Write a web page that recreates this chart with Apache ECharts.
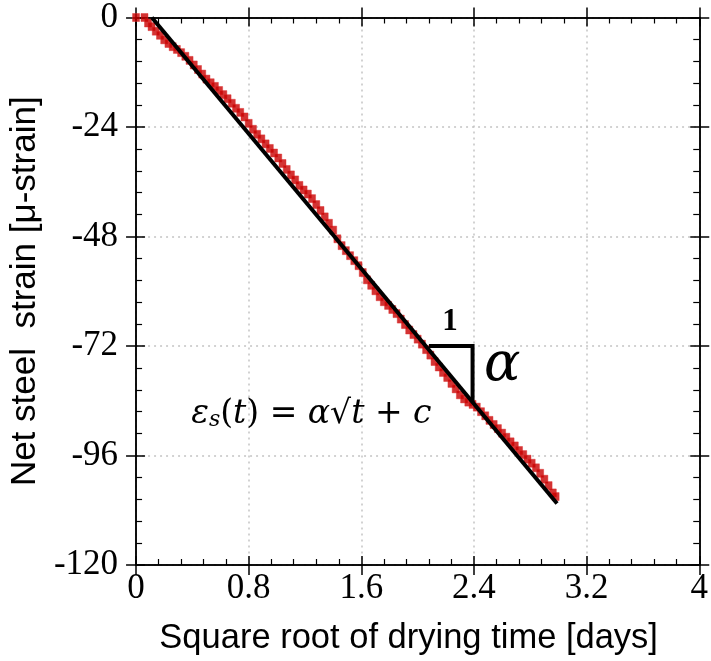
<!DOCTYPE html>
<html>
<head>
<meta charset="utf-8">
<script src="https://cdn.jsdelivr.net/npm/echarts@6/dist/echarts.min.js"></script>
<style>
  html, body { margin: 0; padding: 0; background: #fff; }
  #chart { width: 711px; height: 661px; }
</style>
</head>
<body>
<div id="chart"></div>
<script>
const rootTime = [
  0.00, 0.06, 0.085, 0.11, 0.14, 0.17, 0.20, 0.23, 0.26, 0.29, 0.32, 0.35, 0.38, 0.41, 0.44,
  0.47, 0.50, 0.53, 0.56, 0.59, 0.62, 0.65, 0.68, 0.71, 0.74, 0.77, 0.80, 0.83, 0.86, 0.89,
  0.92, 0.95, 0.98, 1.01, 1.04, 1.07, 1.10, 1.13, 1.16, 1.19, 1.22, 1.25, 1.28, 1.31, 1.34,
  1.37, 1.40, 1.43, 1.46, 1.49, 1.52, 1.55, 1.58, 1.61, 1.64, 1.67, 1.70, 1.73, 1.76, 1.79,
  1.82, 1.85, 1.88, 1.91, 1.94, 1.97, 2.00, 2.03, 2.06, 2.09, 2.12, 2.15, 2.18, 2.21, 2.24,
  2.27, 2.30, 2.33, 2.36, 2.39, 2.42, 2.45, 2.48, 2.51, 2.54, 2.57, 2.60, 2.63, 2.66, 2.69,
  2.72, 2.75, 2.78, 2.81, 2.84, 2.87, 2.90, 2.93, 2.96, 2.98
];
const strain = [
  0, 0, -1.2, -2.0, -3.0, -3.9, -4.9, -5.7, -6.4, -7.0, -7.7, -8.5, -9.4, -10.4, -11.4,
  -12.4, -13.5, -14.3, -15.1, -16.0, -16.9, -17.8, -18.8, -19.9, -20.8, -21.8, -23.2, -24.5, -25.6, -26.6,
  -27.7, -28.7, -29.7, -30.8, -32.0, -33.3, -34.5, -35.6, -36.8, -37.8, -38.7, -39.7, -41.0, -42.3, -43.7,
  -45.1, -46.6, -48.5, -50.0, -51.1, -52.2, -53.3, -54.4, -55.9, -57.5, -58.7, -59.9, -61.2, -62.3, -63.1,
  -64.0, -64.9, -66.1, -67.3, -68.5, -69.5, -70.5, -71.6, -72.8, -74.0, -75.4, -76.6, -77.8, -78.9, -80.2,
  -81.4, -82.7, -83.6, -84.3, -84.8, -85.4, -86.4, -87.3, -88.3, -89.2, -90.1, -91.1, -92.0, -93.0, -93.9,
  -94.9, -95.8, -96.8, -97.7, -98.7, -99.9, -101.2, -102.6, -104.2, -105.0
];

// fitted line eps = alpha*sqrt(t) + c
const fitX = [0.112, 2.99];
const fitY = [0, -106.5];

// slope triangle
const triX = [2.08, 2.39, 2.39];
const triY = [-72, -72, -84.3];

// text notes, anchored in data units
const noteX = [2.23, 2.6, 1.245];
const noteY = [-66.8, -76.4, -86.9];

const xTicks = { min: 0, max: 4, interval: 0.8 };
const yTicks = { min: -120, max: 0, interval: 24 };

const zip = (a, b) => a.map((v, i) => [v, b[i]]);

const chart = echarts.init(document.getElementById('chart'));

const serif = '"Liberation Serif", "Times New Roman", serif';
const sans = '"Liberation Sans", Arial, sans-serif';
const mathFont = '"DejaVu Serif", serif';

function xAx(pos, opts) {
  return Object.assign({
    type: 'value', position: pos, min: xTicks.min, max: xTicks.max, interval: xTicks.interval,
    axisLine: { show: true, onZero: false, lineStyle: { color: '#000', width: 1.5 } },
    axisTick: { show: true, inside: false, length: 10, lineStyle: { color: '#000', width: 1.5 } },
    minorTick: { show: false },
    axisLabel: { show: false },
    splitLine: { show: false }
  }, opts);
}
function yAx(pos, opts) {
  return Object.assign({
    type: 'value', position: pos, min: yTicks.min, max: yTicks.max, interval: yTicks.interval,
    axisLine: { show: true, onZero: false, lineStyle: { color: '#000', width: 1.5 } },
    axisTick: { show: true, inside: false, length: 10, lineStyle: { color: '#000', width: 1.5 } },
    minorTick: { show: false },
    axisLabel: { show: false },
    splitLine: { show: false }
  }, opts);
}
const innerTick = {
  axisTick: { show: true, inside: true, length: 9, lineStyle: { color: '#000', width: 1.5 } },
  minorTick: { show: true, splitNumber: 5, length: 6, lineStyle: { color: '#000', width: 1.2 } }
};
const grid = { color: '#c4c4c4', width: 1.5, type: [2, 4] };

const option = {
  animation: false,
  grid: { left: 136, right: 3, top: 17, bottom: 96 },
  xAxis: [
    xAx('bottom', {
      name: 'Square root of drying time [days]',
      nameLocation: 'middle', nameGap: 56,
      nameTextStyle: { fontFamily: sans, fontSize: 34.5, color: '#000', padding: [0, 18, 0, 0] },
      axisLabel: { show: true, fontFamily: serif, fontSize: 35, color: '#000', margin: 6,
        formatter: v => String(+v.toFixed(1)) },
      splitLine: { show: true, lineStyle: grid }
    }),
    xAx('bottom', innerTick),
    xAx('top', {}),
    xAx('top', innerTick)
  ],
  yAxis: [
    yAx('left', {
      name: 'Net steel  strain [\u03bc-strain]',
      nameLocation: 'middle', nameGap: 90,
      nameTextStyle: { fontFamily: sans, fontSize: 35, color: '#000' },
      axisLabel: { show: true, fontFamily: serif, fontSize: 35, color: '#000', margin: 18 },
      splitLine: { show: true, lineStyle: grid }
    }),
    yAx('left', innerTick),
    yAx('right', {}),
    yAx('right', innerTick)
  ],
  series: [
    {
      type: 'scatter',
      data: zip(rootTime, strain),
      symbol: 'rect',
      symbolSize: [7, 8],
      itemStyle: { color: '#c80000', borderColor: 'rgba(220,40,40,0.9)', borderWidth: 0.6 },
      z: 2
    },
    {
      type: 'line',
      data: zip(fitX, fitY),
      symbol: 'none',
      lineStyle: { color: '#000', width: 4 },
      z: 3
    },
    {
      type: 'line',
      data: zip(triX, triY),
      symbol: 'none',
      lineStyle: { color: '#000', width: 4, join: 'miter' },
      z: 3
    }
  ]
};

chart.setOption(option);

// annotations placed through the axes
const p = i => chart.convertToPixel({ xAxisIndex: 0, yAxisIndex: 0 }, [noteX[i], noteY[i]]);
const p0 = p(0), p1 = p(1), p2 = p(2);
chart.setOption({
  graphic: [
    { type: 'text', x: p0[0], y: p0[1], z: 10,
      style: { text: '1', font: 'bold 31px ' + serif, fill: '#000', align: 'center', verticalAlign: 'middle' } },
    { type: 'text', x: p1[0], y: p1[1], z: 10,
      style: { text: '\u03b1', font: 'italic 54px ' + mathFont, fill: '#000', align: 'center', verticalAlign: 'middle' } },
    { type: 'text', x: p2[0], y: p2[1], z: 10,
      style: {
        text: '{i|\u03b5}{s|s}{n|(}{i|t}{n|) = }{i|\u03b1}{n|\u221a}{i|t}{n| + }{i|c}',
        align: 'center', verticalAlign: 'middle',
        rich: {
          i: { fontFamily: mathFont, fontStyle: 'italic', fontSize: 33, fill: '#000' },
          n: { fontFamily: mathFont, fontSize: 33, fill: '#000' },
          s: { fontFamily: mathFont, fontStyle: 'italic', fontSize: 22, fill: '#000', padding: [13, 0, 0, 0] }
        }
      } }
  ]
});
</script>
</body>
</html>
